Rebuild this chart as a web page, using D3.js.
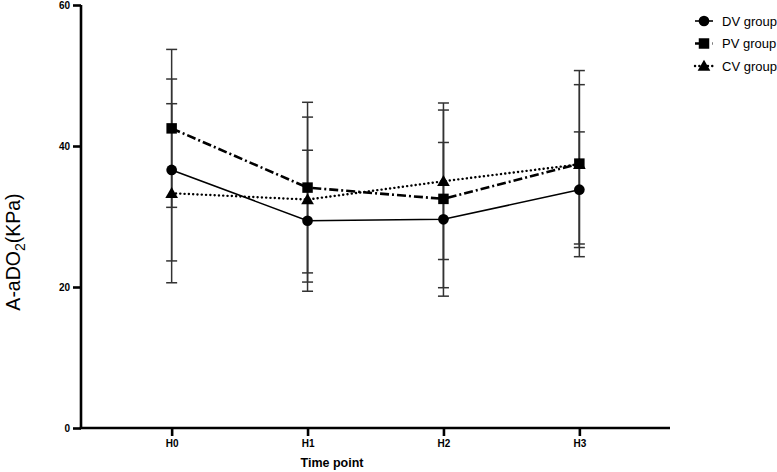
<!DOCTYPE html>
<html>
<head>
<meta charset="utf-8">
<script src="https://cdn.jsdelivr.net/npm/d3@7"></script>
<style>
  body { margin: 0; background: #fff; }
  svg { font-family: "Liberation Sans", Arial, sans-serif; }
</style>
</head>
<body>
<svg id="chart" width="777" height="472"></svg>
<script>
const timePoints = ['H0', 'H1', 'H2', 'H3']
const yTicks = [0, 20, 40, 60]

const dvMean = [36.6, 29.4, 29.6, 33.8]
const dvSd = [12.9, 10.0, 10.9, 8.2]
const pvMean = [42.5, 34.1, 32.5, 37.5]
const pvSd = [11.2, 12.1, 12.6, 13.2]
const cvMean = [33.3, 32.4, 35.0, 37.4]
const cvSd = [12.7, 11.7, 11.1, 11.3]

const groups = [
    { name: 'CV group', mean: cvMean, sd: cvSd, symbol: d3.symbolTriangle, size: 70, dash: '0.1,4.2', width: 2.4, cap: 'round' },
    { name: 'PV group', mean: pvMean, sd: pvSd, symbol: d3.symbolSquare, size: 110, dash: '9,3,2,3', width: 2.6, cap: 'butt' },
    { name: 'DV group', mean: dvMean, sd: dvSd, symbol: d3.symbolCircle, size: 90, dash: null, width: 1.6, cap: 'butt' }
]
const legendOrder = ['DV group', 'PV group', 'CV group']

const svg = d3.select('#chart')

const x = d3.scaleLinear().domain([-0.667, 3.667]).range([81, 670])
const y = d3.scaleLinear().domain([0, 60]).range([428, 5])

// error bars
const capHalf = 5.5
groups.forEach(g => {
    const eb = svg.append('g').attr('stroke', '#333').attr('stroke-width', 1.5)
    g.mean.forEach((m, i) => {
        const cx = x(i)
        const lo = y(m - g.sd[i])
        const hi = y(m + g.sd[i])
        eb.append('line').attr('x1', cx).attr('x2', cx).attr('y1', lo).attr('y2', hi)
        eb.append('line').attr('x1', cx - capHalf).attr('x2', cx + capHalf).attr('y1', lo).attr('y2', lo)
        eb.append('line').attr('x1', cx - capHalf).attr('x2', cx + capHalf).attr('y1', hi).attr('y2', hi)
    })
})

// lines
const line = d3.line().x((d, i) => x(i)).y(d => y(d))
groups.forEach(g => {
    svg.append('path')
        .attr('d', line(g.mean))
        .attr('fill', 'none')
        .attr('stroke', '#000')
        .attr('stroke-width', g.width)
        .attr('stroke-linecap', g.cap)
        .attr('stroke-dasharray', g.dash)
})

// markers
groups.forEach(g => {
    svg.append('g').selectAll('path')
        .data(g.mean)
        .join('path')
        .attr('transform', (d, i) => `translate(${x(i)},${y(d) + (g.symbol === d3.symbolTriangle ? 1 : 0)})`)
        .attr('d', d3.symbol(g.symbol, g.size))
        .attr('fill', '#000')
})

// axes
const yAxis = svg.append('g')
    .attr('transform', 'translate(81,0)')
    .call(d3.axisLeft(y).tickValues(yTicks).tickSize(8).tickPadding(3))
const xAxis = svg.append('g')
    .attr('transform', 'translate(0,428)')
    .call(d3.axisBottom(x).tickValues(d3.range(timePoints.length)).tickFormat(i => timePoints[i]).tickSize(8).tickPadding(4))

;[yAxis, xAxis].forEach(a => {
    a.select('.domain').attr('stroke', '#000').attr('stroke-width', 2.6)
    a.selectAll('.tick line').attr('stroke', '#000').attr('stroke-width', 2.6)
    a.selectAll('.tick text').attr('fill', '#000').style('font-size', '10px').style('font-weight', 'bold')
})
yAxis.select('.domain').attr('d', `M0,${y(60)}V${y(0)}`)
xAxis.select('.domain').attr('d', `M${x.range()[0] - 1.3},0H${x.range()[1]}`)

// axis titles
svg.append('text')
    .attr('x', 332)
    .attr('y', 467)
    .attr('text-anchor', 'middle')
    .style('font-size', '12.5px')
    .style('font-weight', 'bold')
    .text('Time point')

const yTitle = svg.append('text')
    .attr('transform', 'translate(20,252) rotate(-90)')
    .attr('text-anchor', 'middle')
    .style('font-size', '19.5px')
yTitle.append('tspan').text('A-aDO')
yTitle.append('tspan').attr('dy', 5).style('font-size', '14px').text('2')
yTitle.append('tspan').attr('dy', -5).text('(KPa)')

// legend
const legend = svg.append('g')
legendOrder.forEach((name, k) => {
    const g = groups.find(gr => gr.name === name)
    const ly = 21 + k * 22.5
    legend.append('line')
        .attr('x1', 695).attr('x2', 713).attr('y1', ly).attr('y2', ly)
        .attr('stroke', '#000')
        .attr('stroke-width', g.width)
        .attr('stroke-linecap', g.cap)
        .attr('stroke-dasharray', g.symbol === d3.symbolSquare ? '4,2,1.5,10' : g.dash)
    legend.append('path')
        .attr('transform', `translate(704,${ly + (g.symbol === d3.symbolTriangle ? 1 : 0)})`)
        .attr('d', d3.symbol(g.symbol, g.size))
        .attr('fill', '#000')
    legend.append('text')
        .attr('x', 722)
        .attr('y', ly + 4.5)
        .style('font-size', '13px')
        .text(name)
})
</script>
</body>
</html>
